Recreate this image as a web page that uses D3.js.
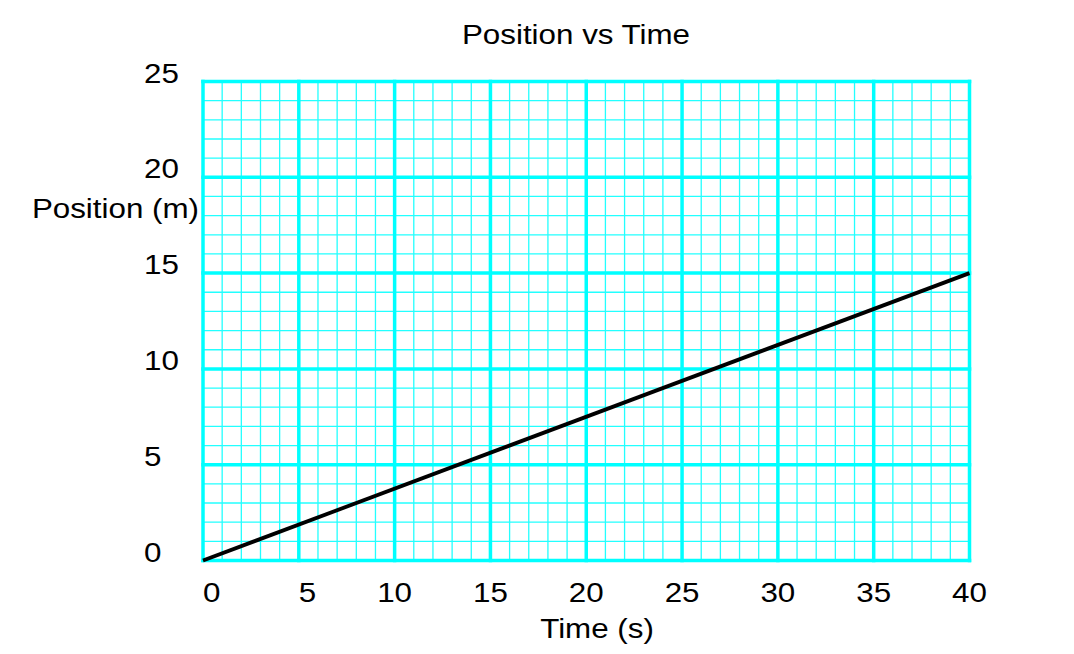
<!DOCTYPE html>
<html>
<head>
<meta charset="utf-8">
<script src="https://cdn.jsdelivr.net/npm/d3@7"></script>
<style>
  body { margin: 0; background: #fff; }
  text { font-family: "Liberation Sans", Arial, sans-serif; fill: #000; }
</style>
</head>
<body>
<script>
// data
const times = [0, 40];
const positions = [0, 15];
const xTicks = [0, 5, 10, 15, 20, 25, 30, 35, 40];
const yTicks = [0, 5, 10, 15, 20, 25];

const W = 1074, H = 654;
const plotLeft = 203, plotRight = 969.5, plotTop = 81.5, plotBottom = 560.5;
const fs = 28.5, sx = 1.1;

const svg = d3.select("body").append("svg")
    .attr("width", W)
    .attr("height", H);

const x = d3.scaleLinear().domain([0, 40]).range([plotLeft, plotRight]);
const y = d3.scaleLinear().domain([0, 25]).range([plotBottom, plotTop]);

// minor grid
const g = svg.append("g");
g.selectAll(".vminor")
    .data(d3.range(0, 41))
    .enter().append("line")
        .attr("x1", d => x(d)).attr("x2", d => x(d))
        .attr("y1", y(0)).attr("y2", y(25))
        .attr("stroke", "#22ffff")
        .attr("stroke-width", 1.3);
g.selectAll(".hminor")
    .data(d3.range(0, 26))
    .enter().append("line")
        .attr("y1", d => y(d)).attr("y2", d => y(d))
        .attr("x1", x(0)).attr("x2", x(40))
        .attr("stroke", "#22ffff")
        .attr("stroke-width", 1.3);

// major grid
g.selectAll(".vmajor")
    .data(xTicks)
    .enter().append("line")
        .attr("x1", d => x(d)).attr("x2", d => x(d))
        .attr("y1", y(0) + 1.75).attr("y2", y(25) - 1.75)
        .attr("stroke", "#00ffff")
        .attr("stroke-width", 3.5);
g.selectAll(".hmajor")
    .data(yTicks)
    .enter().append("line")
        .attr("y1", d => y(d)).attr("y2", d => y(d))
        .attr("x1", x(0) - 1.75).attr("x2", x(40) + 1.75)
        .attr("stroke", "#00ffff")
        .attr("stroke-width", 3.5);

// the line
const line = d3.line()
    .x(d => x(d[0]))
    .y(d => y(d[1]));

svg.append("path")
    .datum(times.map((t, i) => [t, positions[i]]))
    .attr("d", line)
    .attr("fill", "none")
    .attr("stroke", "#000")
    .attr("stroke-width", 3.8);

function label(px, py, txt, anchor) {
    svg.append("text")
        .attr("transform", "translate(" + px + "," + py + ") scale(" + sx + ",1)")
        .attr("font-size", fs + "px")
        .attr("text-anchor", anchor)
        .text(txt);
}

// tick labels
xTicks.forEach(v => label(x(v), 602, v, v < 10 ? "start" : "middle"));
yTicks.forEach(v => label(144, y(v) + 1, v, "start"));

// titles
label(576, 44, "Position vs Time", "middle");
label(597, 638, "Time (s)", "middle");
label(199, 218, "Position (m)", "end");
</script>
</body>
</html>
